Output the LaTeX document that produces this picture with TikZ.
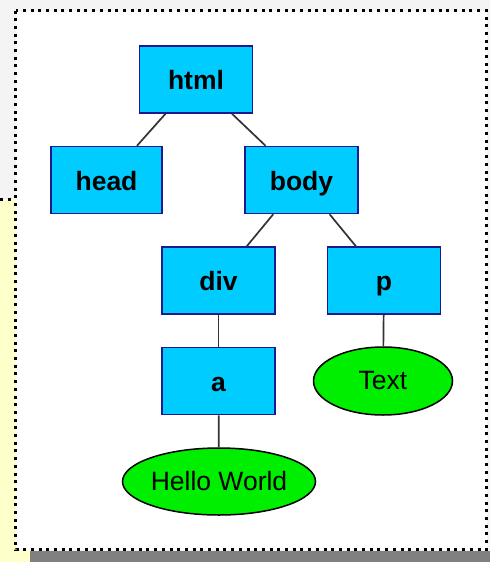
\documentclass[tikz,border=0pt]{standalone}
\usepackage{fontspec}
\setmainfont{Liberation Sans}
\usetikzlibrary{shapes.geometric}
\definecolor{boxfill}{HTML}{00CCFF}
\definecolor{boxline}{HTML}{1A1A8C}
\definecolor{leaffill}{HTML}{00EE00}
\definecolor{edgecol}{HTML}{333333}
\definecolor{bgcol}{HTML}{F4F4F4}
\definecolor{yel}{HTML}{FFFFCC}
\definecolor{shadowcol}{HTML}{808080}
\tikzset{
  tagbox/.style={draw=boxline, fill=boxfill, line width=1.5pt, rectangle,
    minimum width=113pt, minimum height=67pt, inner sep=0pt,
    text height=20pt, text depth=0pt,
    font=\fontsize{26.5}{30}\selectfont\bfseries},
  leaf/.style={draw=black, fill=leaffill, line width=1.5pt, ellipse,
    inner sep=0pt, font=\fontsize{26.5}{30}\selectfont},
  edge/.style={draw=edgecol, line width=1.7pt},
  frameline/.style={draw=black, line width=3pt, dash pattern=on 3pt off 4.7pt}
}
\begin{document}
\begin{tikzpicture}[x=1pt,y=-1pt]
\useasboundingbox (0,0) rectangle (490,562);
\fill[bgcol] (0,0) rectangle (490,562);
\fill[yel] (0,199) rectangle (30,562);
\draw[frameline] (0,199) -- (15,199);
\fill[shadowcol] (30,551) rectangle (490,562);
\fill[white] (15.5,10.5) rectangle (486.5,549.5);
\draw[frameline] (15.5,10.5) rectangle (486.5,549.5);

\node[tagbox] (html) at (196,79.5) {html};
\node[tagbox, minimum width=111pt] (head) at (106.5,180) {head};
\node[tagbox] (body) at (301.5,180) {body};
\node[tagbox] (div) at (218.5,280.5) {div};
\node[tagbox] (p) at (384,280.5) {p};
\node[tagbox] (a) at (218.5,381) {a};
\node[leaf, minimum width=139pt, minimum height=68pt] (text) at (383,381) {Text};
\node[leaf, minimum width=192pt, minimum height=67pt] (hello) at (219,481.5) {Hello World};

\draw[edge] (html) -- (head);
\draw[edge] (html) -- (body);
\draw[edge] (body) -- (div);
\draw[edge] (body) -- (p);
\draw[edge] (div) -- (a);
\draw[edge] (p) -- (text);
\draw[edge] (a) -- (hello);
\end{tikzpicture}
\end{document}
